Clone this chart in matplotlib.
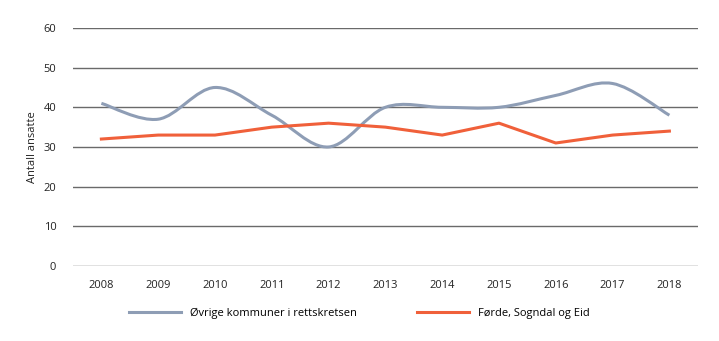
import numpy as np
import matplotlib
matplotlib.use("Agg")
import matplotlib.pyplot as plt
from matplotlib.path import Path
from matplotlib.patches import PathPatch
from matplotlib.lines import Line2D

plt.rcParams['font.family'] = ['Open Sans', 'DejaVu Sans']

years = ['2008', '2009', '2010', '2011', '2012', '2013', '2014', '2015', '2016', '2017', '2018']
ovrige = [41, 37, 45, 38, 30, 40, 40, 40, 43, 46, 38]
forde = [32, 33, 33, 35, 36, 35, 33, 36, 31, 33, 34]
yticks = [0, 10, 20, 30, 40, 50, 60]

grey = '#8e9db5'
orange = '#f0603a'


# smooth line like the spreadsheet one (catmull-rom as bezier)
def smooth_path(xs, ys):
    pts = np.column_stack([xs, ys]).astype(float)
    verts = [pts[0]]
    codes = [Path.MOVETO]
    n = len(pts)
    for i in range(n - 1):
        p0 = pts[i - 1] if i > 0 else pts[i]
        p1 = pts[i]
        p2 = pts[i + 1]
        p3 = pts[i + 2] if i + 2 < n else pts[i + 1]
        b1 = p1 + (p2 - p0) / 6
        b2 = p2 - (p3 - p1) / 6
        verts += [b1, b2, p2]
        codes += [Path.CURVE4] * 3
    return Path(verts, codes)


fig = plt.figure(figsize=(7.19, 3.41), dpi=100)
ax = fig.add_axes([0.1015, 0.22, 0.869, 0.698])

x = np.arange(len(years))
ax.add_patch(PathPatch(smooth_path(x, ovrige), fill=False, edgecolor=grey, lw=2.2,
                       capstyle='butt', zorder=3))
ax.plot(x, forde, color=orange, lw=2.2, zorder=3)

ax.set_xlim(-0.5, len(years) - 0.5)
ax.set_ylim(0, 60)
ax.set_yticks(yticks)
ax.set_xticks(x)
ax.set_xticklabels(years)
ax.tick_params(length=0, labelsize=8, colors='#222222')
ax.tick_params(axis='x', pad=10)
ax.tick_params(axis='y', pad=12)
ax.yaxis.grid(True, color='#6a6a6a', lw=1)
ax.set_axisbelow(True)
for s in ax.spines.values():
    s.set_visible(False)
ax.set_ylabel('Antall ansatte', fontsize=8, color='#222222', labelpad=4)

handles = [Line2D([], [], color=grey, lw=2.2), Line2D([], [], color=orange, lw=2.2)]
fig.legend(handles, ['Øvrige kommuner i rettskretsen', 'Førde, Sogndal og Eid'],
           loc='center', bbox_to_anchor=(0.5, 0.082), ncol=2, frameon=False,
           fontsize=8, handlelength=4.7, columnspacing=5.4, handletextpad=0.8)

fig.savefig('out.png', dpi=100)
